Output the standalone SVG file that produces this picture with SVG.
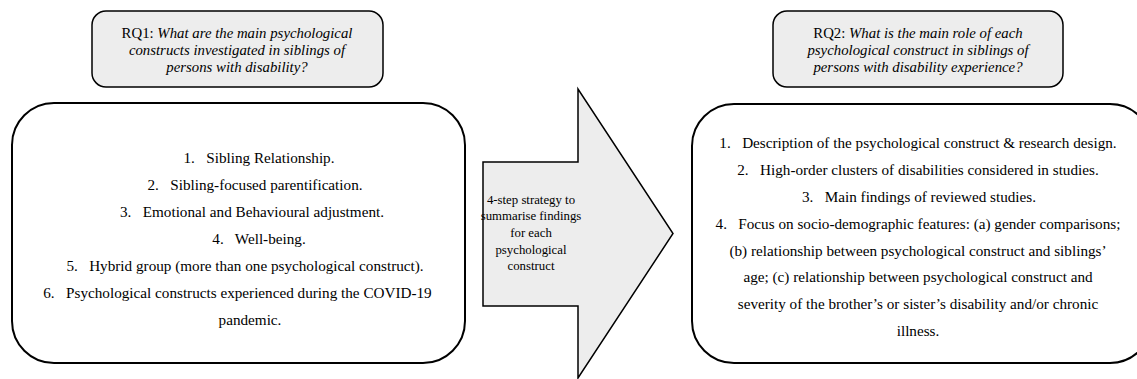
<svg xmlns="http://www.w3.org/2000/svg" width="1137" height="379" viewBox="0 0 1137 379">
<style>
.q{fill:#ededed;stroke:#000;stroke-width:1.5}
.big{fill:#fff;stroke:#000;stroke-width:2}
.t{font-family:"Liberation Serif","Times New Roman",serif;font-size:15.2px;fill:#000;text-anchor:middle;white-space:pre}
.qt{font-family:"Liberation Serif","Times New Roman",serif;font-size:14.8px;fill:#000;text-anchor:middle}
.at{font-family:"Liberation Serif","Times New Roman",serif;font-size:12.8px;fill:#000;text-anchor:middle}
.i{font-style:italic}
</style>
<rect width="1137" height="379" fill="#fff"/>
<g id="rq1">
<rect class="q" x="92" y="11" width="291" height="76" rx="14"/>
<text class="qt" x="237" y="38">RQ1: <tspan class="i">What are the main psychological</tspan></text>
<text class="qt i" x="237" y="55">constructs investigated in siblings of</text>
<text class="qt i" x="237" y="72">persons with disability?</text>
</g>
<g id="rq2">
<rect class="q" x="773" y="11" width="290" height="76" rx="14"/>
<text class="qt" x="918" y="38">RQ2: <tspan class="i">What is the main role of each</tspan></text>
<text class="qt i" x="918" y="55">psychological construct in siblings of</text>
<text class="qt i" x="918" y="72">persons with disability experience?</text>
</g>
<g id="constructs">
<rect class="big" x="12" y="103" width="453" height="260" rx="42"/>
<text class="t" x="259" y="163">1.   Sibling Relationship.</text>
<text class="t" x="255" y="190">2.   Sibling-focused parentification.</text>
<text class="t" x="252" y="217">3.   Emotional and Behavioural adjustment.</text>
<text class="t" x="259" y="244">4.   Well-being.</text>
<text class="t" x="245" y="271">5.   Hybrid group (more than one psychological construct).</text>
<text class="t" x="237.5" y="298">6.   Psychological constructs experienced during the COVID-19</text>
<text class="t" x="250" y="325">pandemic.</text>
</g>
<g id="strategy">
<path class="q" d="M483,162 H578 V89 L673,233.5 L578,378 V306 H483 Z"/>
<text class="at" x="531" y="204">4-step strategy to</text>
<text class="at" x="531" y="220">summarise findings</text>
<text class="at" x="531" y="237">for each</text>
<text class="at" x="531" y="254">psychological</text>
<text class="at" x="531" y="270">construct</text>
</g>
<g id="steps">
<rect class="big" x="692" y="104" width="460" height="259" rx="42"/>
<text class="t" x="918" y="148">1.   Description of the psychological construct &amp; research design.</text>
<text class="t" x="918" y="175">2.   High-order clusters of disabilities considered in studies.</text>
<text class="t" x="919" y="202">3.   Main findings of reviewed studies.</text>
<text class="t" x="918" y="229">4.   Focus on socio-demographic features: (a) gender comparisons;</text>
<text class="t" x="918" y="256">(b) relationship between psychological construct and siblings’</text>
<text class="t" x="918" y="282">age; (c) relationship between psychological construct and</text>
<text class="t" x="918" y="309">severity of the brother’s or sister’s disability and/or chronic</text>
<text class="t" x="918" y="336">illness.</text>
</g>
<g id="connectors"></g>
</svg>
